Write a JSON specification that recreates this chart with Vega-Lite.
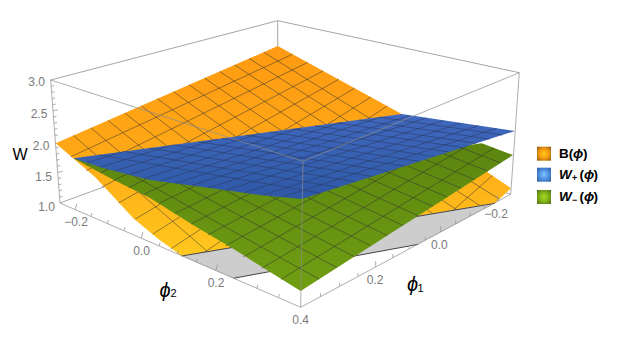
{"$schema":"https://vega.github.io/schema/vega-lite/v6.json","width":623,"height":345,"padding":0,"autosize":{"type":"none"},"background":"white","config":{"view":{"stroke":null}},
"datasets":{
"back":[{"g":"a","u":50.7,"v":80},{"g":"a","u":277.7,"v":20.7},{"g":"b","u":277.7,"v":20.7},{"g":"b","u":519.3,"v":72.7},{"g":"c","u":277.7,"v":20.7},{"g":"c","u":277.7,"v":123},{"g":"d","u":60,"v":203},{"g":"d","u":278,"v":123},{"g":"e","u":278,"v":123},{"g":"e","u":510.7,"v":194.3}],
"orangePoly":[{"g":"o","o":1,"u":55.7,"v":143.3},{"g":"o","o":2,"u":277.7,"v":46},{"g":"o","o":3,"u":401.7,"v":114},{"g":"o","o":4,"u":511,"v":188.3},{"g":"o","o":5,"u":495,"v":203.3},{"g":"o","o":6,"u":418,"v":216},{"g":"o","o":7,"u":232,"v":248},{"g":"o","o":8,"u":181.7,"v":256},{"g":"o","o":9,"u":157,"v":238},{"g":"o","o":10,"u":133,"v":218},{"g":"o","o":11,"u":110,"v":193},{"g":"o","o":12,"u":95,"v":177}],
"orangeMesh":[
{"g":"p1","u":70.7,"v":156.8},{"g":"p1","u":292.6,"v":54.2},{"g":"p2","u":86.2,"v":170.6},{"g":"p2","u":307.7,"v":62.4},{"g":"p3","u":102.1,"v":187},{"g":"p3","u":323.1,"v":70.9},{"g":"p4","u":118.5,"v":203},{"g":"p4","u":338.7,"v":79.4},{"g":"p5","u":135.3,"v":219},{"g":"p5","u":354.6,"v":88.2},{"g":"p6","u":152.7,"v":234},{"g":"p6","u":370.8,"v":97.1},{"g":"p7","u":170.6,"v":249},{"g":"p7","u":387.2,"v":106},{"g":"p8","u":189,"v":262.8},{"g":"p8","u":404,"v":115.6},{"g":"p9","u":208,"v":279.9},{"g":"p9","u":421,"v":127.1},{"g":"p10","u":227.7,"v":297.5},{"g":"p10","u":438.4,"v":139},{"g":"p11","u":248,"v":315.7},{"g":"p11","u":456,"v":150.9},{"g":"p12","u":268.9,"v":334.5},{"g":"p12","u":474,"v":163.2},{"g":"p13","u":290.6,"v":353.9},{"g":"p13","u":492.3,"v":175.6},
{"g":"q1","u":263.6,"v":52.2},{"g":"q1","u":499.4,"v":199.1},{"g":"q2","u":249.2,"v":58.5},{"g":"q2","u":487.5,"v":210.3},{"g":"q3","u":234.5,"v":64.9},{"g":"q3","u":475.3,"v":221.8},{"g":"q4","u":219.7,"v":71.4},{"g":"q4","u":462.7,"v":233.6},{"g":"q5","u":204.5,"v":78.1},{"g":"q5","u":449.7,"v":245.8},{"g":"q6","u":189.1,"v":84.8},{"g":"q6","u":436.4,"v":258.3},{"g":"q7","u":173.5,"v":91.7},{"g":"q7","u":422.6,"v":271.2},{"g":"q8","u":157.5,"v":98.7},{"g":"q8","u":408.4,"v":284.5},{"g":"q9","u":141.3,"v":105.8},{"g":"q9","u":393.8,"v":298.3},{"g":"q10","u":124.8,"v":113},{"g":"q10","u":378.7,"v":312.4},{"g":"q11","u":108,"v":120.4},{"g":"q11","u":363,"v":327.1},{"g":"q12","u":90.9,"v":127.9},{"g":"q12","u":346.9,"v":342.2},{"g":"q13","u":73.5,"v":135.5},{"g":"q13","u":330.2,"v":357.8}],
"mask":[{"g":"m","o":1,"u":181.7,"v":256},{"g":"m","o":2,"u":495,"v":203.3},{"g":"m","o":3,"u":499,"v":207},{"g":"m","o":4,"u":335,"v":380},{"g":"m","o":5,"u":285,"v":380},{"g":"m","o":6,"u":177,"v":258}],
"grey":[{"g":"y","o":1,"u":181.7,"v":256},{"g":"y","o":2,"u":495,"v":203.3},{"g":"y","o":3,"u":418.3,"v":244.3},{"g":"y","o":4,"u":233.3,"v":278.3}],
"greyEdge":[{"g":"a","u":181.7,"v":256},{"g":"a","u":495,"v":203.3},{"g":"b","u":233.3,"v":278.3},{"g":"b","u":418.3,"v":244.3}],
"greenPoly":[{"g":"n","o":1,"u":73.3,"v":158.3},{"g":"n","o":2,"u":300,"v":170},{"g":"n","o":3,"u":481.7,"v":143.3},{"g":"n","o":4,"u":513,"v":155},{"g":"n","o":5,"u":300.7,"v":291},{"g":"n","o":6,"u":270,"v":272},{"g":"n","o":7,"u":232,"v":248},{"g":"n","o":8,"u":193,"v":225},{"g":"n","o":9,"u":150,"v":198},{"g":"n","o":10,"u":110,"v":178}],
"greenMesh":[
{"g":"p1","u":86.6,"v":165},{"g":"p1","u":105,"v":156.6},{"g":"p2","u":100.2,"v":173},{"g":"p2","u":125,"v":161},{"g":"p3","u":114.3,"v":180},{"g":"p3","u":145,"v":165.8},{"g":"p4","u":128.8,"v":187.7},{"g":"p4","u":165,"v":169.1},{"g":"p5","u":143.7,"v":194.4},{"g":"p5","u":185,"v":175},{"g":"p6","u":159,"v":203.3},{"g":"p6","u":210,"v":178.8},{"g":"p7","u":174.8,"v":213.5},{"g":"p7","u":240,"v":181.2},{"g":"p8","u":191.1,"v":224},{"g":"p8","u":268,"v":184.2},{"g":"p9","u":207.9,"v":234.9},{"g":"p9","u":298,"v":186.8},{"g":"p10","u":225.3,"v":246},{"g":"p10","u":335,"v":185.2},{"g":"p11","u":243.2,"v":257},{"g":"p11","u":410,"v":161.1},{"g":"p12","u":261.7,"v":268.3},{"g":"p12","u":475.6,"v":140.9},{"g":"p13","u":280.9,"v":279.4},{"g":"p13","u":494.1,"v":147.9},
{"g":"q1","u":500.6,"v":162.9},{"g":"q1","u":446,"v":141.9},{"g":"q2","u":487.8,"v":171.1},{"g":"q2","u":428,"v":147.6},{"g":"q3","u":474.7,"v":179.5},{"g":"q3","u":410,"v":153.4},{"g":"q4","u":461.2,"v":188.2},{"g":"q4","u":390,"v":158.7},{"g":"q5","u":447.3,"v":197.1},{"g":"q5","u":370,"v":164.4},{"g":"q6","u":433,"v":206.3},{"g":"q6","u":350,"v":170.1},{"g":"q7","u":418.2,"v":215.7},{"g":"q7","u":330,"v":176.1},{"g":"q8","u":403,"v":225.5},{"g":"q8","u":310,"v":182.5},{"g":"q9","u":387.3,"v":235.5},{"g":"q9","u":290,"v":188.9},{"g":"q10","u":371.1,"v":245.9},{"g":"q10","u":255,"v":188.3},{"g":"q11","u":354.3,"v":256.6},{"g":"q11","u":210,"v":182.3},{"g":"q12","u":337.1,"v":267.7},{"g":"q12","u":165,"v":175.7},{"g":"q13","u":319.2,"v":279.2},{"g":"q13","u":120,"v":168.2}],
"bluePoly":[{"g":"l","o":1,"u":73.3,"v":158.3},{"g":"l","o":2,"u":401.7,"v":114},{"g":"l","o":3,"u":515,"v":131},{"g":"l","o":4,"u":380,"v":174},{"g":"l","o":5,"u":301.7,"v":199},{"g":"l","o":6,"u":260,"v":195},{"g":"l","o":7,"u":210,"v":188},{"g":"l","o":8,"u":150,"v":180},{"g":"l","o":9,"u":103,"v":168}],
"blueMesh":[
{"g":"p1","u":86.6,"v":162.6},{"g":"p1","u":124.4,"v":151.4},{"g":"p2","u":100.4,"v":167.1},{"g":"p2","u":173.2,"v":144.9},{"g":"p3","u":114.5,"v":170.9},{"g":"p3","u":217.1,"v":139},{"g":"p4","u":129,"v":174.6},{"g":"p4","u":259.9,"v":133.3},{"g":"p5","u":144,"v":178.5},{"g":"p5","u":301.2,"v":127.7},{"g":"p6","u":159.4,"v":181.3},{"g":"p6","u":341.6,"v":122.3},{"g":"p7","u":175.3,"v":183.4},{"g":"p7","u":380.9,"v":117.1},{"g":"p8","u":191.6,"v":185.5},{"g":"p8","u":409.5,"v":115.6},{"g":"p9","u":208.5,"v":187.8},{"g":"p9","u":426.3,"v":118.1},{"g":"p10","u":226,"v":190.2},{"g":"p10","u":443.4,"v":120.6},{"g":"p11","u":244,"v":192.8},{"g":"p11","u":460.8,"v":123.1},{"g":"p12","u":262.6,"v":195.3},{"g":"p12","u":478.5,"v":125.7},{"g":"p13","u":281.8,"v":197.1},{"g":"p13","u":496.6,"v":128.3},
{"g":"q1","u":502.5,"v":135},{"g":"q1","u":380,"v":117.2},{"g":"q2","u":489.7,"v":139.1},{"g":"q2","u":358.8,"v":120},{"g":"q3","u":476.5,"v":143.3},{"g":"q3","u":337,"v":122.9},{"g":"q4","u":463,"v":147.6},{"g":"q4","u":315,"v":125.9},{"g":"q5","u":449,"v":152},{"g":"q5","u":292.6,"v":128.9},{"g":"q6","u":434.6,"v":156.6},{"g":"q6","u":269.2,"v":132},{"g":"q7","u":419.8,"v":161.4},{"g":"q7","u":246.1,"v":135.1},{"g":"q8","u":404.5,"v":166.2},{"g":"q8","u":222,"v":138.3},{"g":"q9","u":388.7,"v":171.3},{"g":"q9","u":198,"v":141.6},{"g":"q10","u":372.4,"v":176.5},{"g":"q10","u":173.7,"v":144.8},{"g":"q11","u":355.6,"v":181.8},{"g":"q11","u":149,"v":148.1},{"g":"q12","u":338.2,"v":187.4},{"g":"q12","u":123.8,"v":151.5},{"g":"q13","u":320.3,"v":193.1},{"g":"q13","u":98.5,"v":154.9}],
"front":[{"g":"a","u":50.7,"v":80},{"g":"a","u":303,"v":161.3},{"g":"b","u":519.3,"v":72.7},{"g":"b","u":303,"v":161.3},{"g":"c","u":303,"v":161.3},{"g":"c","u":300.7,"v":307.3},{"g":"d","u":50.7,"v":80},{"g":"d","u":60,"v":203},{"g":"e","u":519.3,"v":72.7},{"g":"e","u":510.7,"v":194.3},{"g":"f","u":60,"v":203},{"g":"f","u":300.7,"v":307.3},{"g":"h","u":510.7,"v":194.3},{"g":"h","u":300.7,"v":307.3}],
"ticks":[
{"g":"l1","u":75.3,"v":209.6},{"g":"l1","u":76.8,"v":203.6},{"g":"l2","u":91.1,"v":216.5},{"g":"l2","u":92.1,"v":213},{"g":"l3","u":107.3,"v":223.5},{"g":"l3","u":108.3,"v":220},{"g":"l4","u":124.1,"v":230.8},{"g":"l4","u":125.1,"v":227.3},{"g":"l5","u":141.3,"v":238.2},{"g":"l5","u":142.8,"v":232.2},{"g":"l6","u":159.1,"v":245.9},{"g":"l6","u":160.1,"v":242.4},{"g":"l7","u":177.4,"v":253.9},{"g":"l7","u":178.4,"v":250.4},{"g":"l8","u":196.3,"v":262.1},{"g":"l8","u":197.3,"v":258.6},{"g":"l9","u":215.9,"v":270.5},{"g":"l9","u":217.4,"v":264.5},{"g":"l10","u":236,"v":279.3},{"g":"l10","u":237,"v":275.8},{"g":"l11","u":256.8,"v":288.3},{"g":"l11","u":257.8,"v":284.8},{"g":"l12","u":278.4,"v":297.6},{"g":"l12","u":279.4,"v":294.1},
{"g":"r1","u":497.6,"v":201.4},{"g":"r1","u":497.6,"v":195.4},{"g":"r2","u":484,"v":208.7},{"g":"r2","u":484,"v":205.2},{"g":"r3","u":470.1,"v":216.2},{"g":"r3","u":470.1,"v":212.7},{"g":"r4","u":455.6,"v":224},{"g":"r4","u":455.6,"v":220.5},{"g":"r5","u":440.7,"v":232},{"g":"r5","u":440.7,"v":226},{"g":"r6","u":425.3,"v":240.3},{"g":"r6","u":425.3,"v":236.8},{"g":"r7","u":409.3,"v":248.9},{"g":"r7","u":409.3,"v":245.4},{"g":"r8","u":392.8,"v":257.7},{"g":"r8","u":392.8,"v":254.2},{"g":"r9","u":375.7,"v":267},{"g":"r9","u":375.7,"v":261},{"g":"r10","u":358,"v":276.5},{"g":"r10","u":358,"v":273},{"g":"r11","u":339.6,"v":286.4},{"g":"r11","u":339.6,"v":282.9},{"g":"r12","u":320.5,"v":296.6},{"g":"r12","u":320.5,"v":293.1},
{"g":"z1","u":51.2,"v":86.2},{"g":"z1","u":54.2,"v":85.7},{"g":"z2","u":51.6,"v":92.3},{"g":"z2","u":54.6,"v":91.8},{"g":"z3","u":52.1,"v":98.5},{"g":"z3","u":55.1,"v":98},{"g":"z4","u":52.6,"v":104.6},{"g":"z4","u":55.6,"v":104.1},{"g":"z5","u":53,"v":110.8},{"g":"z5","u":58,"v":109.8},{"g":"z6","u":53.5,"v":116.9},{"g":"z6","u":56.5,"v":116.4},{"g":"z7","u":54,"v":123.1},{"g":"z7","u":57,"v":122.6},{"g":"z8","u":54.4,"v":129.2},{"g":"z8","u":57.4,"v":128.7},{"g":"z9","u":54.9,"v":135.4},{"g":"z9","u":57.9,"v":134.9},{"g":"z11","u":55.8,"v":147.7},{"g":"z11","u":58.8,"v":147.2},{"g":"z12","u":56.3,"v":153.8},{"g":"z12","u":59.3,"v":153.3},{"g":"z13","u":56.7,"v":160},{"g":"z13","u":59.7,"v":159.5},{"g":"z14","u":57.2,"v":166.1},{"g":"z14","u":60.2,"v":165.6},{"g":"z15","u":57.7,"v":172.3},{"g":"z15","u":62.7,"v":171.3},{"g":"z16","u":58.1,"v":178.4},{"g":"z16","u":61.1,"v":177.9},{"g":"z17","u":58.6,"v":184.6},{"g":"z17","u":61.6,"v":184.1},{"g":"z18","u":59.1,"v":190.7},{"g":"z18","u":62.1,"v":190.2},{"g":"z19","u":59.5,"v":196.9},{"g":"z19","u":62.5,"v":196.4}],
"tickLabels":[{"t":"3.0","u":36.7,"v":82},{"t":"2.5","u":39,"v":114},{"t":"2.0","u":41,"v":146},{"t":"1.5","u":43.7,"v":177},{"t":"1.0","u":46.7,"v":207},{"t":"−0.2","u":76,"v":222.3},{"t":"0.0","u":141.7,"v":251},{"t":"0.2","u":216,"v":283.3},{"t":"0.4","u":300.7,"v":320},{"t":"0.2","u":375,"v":280},{"t":"0.0","u":439.3,"v":245},{"t":"−0.2","u":496,"v":214.3}],
"swO":[{"u":537,"u2":551,"v":146.7,"v2":160.7}],
"swB":[{"u":537,"u2":551,"v":167.7,"v2":181.7}],
"swG":[{"u":537,"u2":551,"v":190,"v2":204}]
},
"encoding":{"x":{"field":"u","type":"quantitative","scale":{"domain":[0,623],"nice":false,"zero":false},"axis":null},"y":{"field":"v","type":"quantitative","scale":{"domain":[345,0],"nice":false,"zero":false},"axis":null}},
"layer":[
{"data":{"name":"back"},"mark":{"type":"line","stroke":"#a6a6a6","strokeWidth":1},"encoding":{"detail":{"field":"g"}}},
{"data":{"name":"orangePoly"},"mark":{"type":"line","strokeWidth":0,"fill":{"gradient":"linear","x1":0,"y1":0,"x2":0,"y2":1,"stops":[{"offset":0,"color":"#FF9A12"},{"offset":0.5,"color":"#FFA816"},{"offset":1,"color":"#FFC81E"}]}},"encoding":{"detail":{"field":"g"},"order":{"field":"o"}}},
{"data":{"name":"orangeMesh"},"mark":{"type":"line","stroke":"#333333","strokeOpacity":0.65,"strokeWidth":0.8},"encoding":{"detail":{"field":"g"}}},
{"data":{"name":"mask"},"mark":{"type":"line","strokeWidth":0,"fill":"white"},"encoding":{"detail":{"field":"g"},"order":{"field":"o"}}},
{"data":{"name":"grey"},"mark":{"type":"line","strokeWidth":0,"fill":"#CDCDCD"},"encoding":{"detail":{"field":"g"},"order":{"field":"o"}}},
{"data":{"name":"greyEdge"},"mark":{"type":"line","stroke":"#444444","strokeWidth":1},"encoding":{"detail":{"field":"g"}}},
{"data":{"name":"greenPoly"},"mark":{"type":"line","strokeWidth":0,"fill":{"gradient":"linear","x1":0,"y1":0,"x2":0,"y2":1,"stops":[{"offset":0,"color":"#5B850F"},{"offset":1,"color":"#709F13"}]}},"encoding":{"detail":{"field":"g"},"order":{"field":"o"}}},
{"data":{"name":"greenMesh"},"mark":{"type":"line","stroke":"#333333","strokeOpacity":0.65,"strokeWidth":0.8},"encoding":{"detail":{"field":"g"}}},
{"data":{"name":"bluePoly"},"mark":{"type":"line","strokeWidth":0,"fill":{"gradient":"linear","x1":0,"y1":0,"x2":0,"y2":1,"stops":[{"offset":0,"color":"#4069BF"},{"offset":1,"color":"#2E58A6"}]}},"encoding":{"detail":{"field":"g"},"order":{"field":"o"}}},
{"data":{"name":"blueMesh"},"mark":{"type":"line","stroke":"#2A3A60","strokeOpacity":0.7,"strokeWidth":0.8},"encoding":{"detail":{"field":"g"}}},
{"data":{"name":"front"},"mark":{"type":"line","stroke":"#8c8c8c","strokeOpacity":0.7,"strokeWidth":1},"encoding":{"detail":{"field":"g"}}},
{"data":{"name":"ticks"},"mark":{"type":"line","stroke":"#999999","strokeWidth":0.8},"encoding":{"detail":{"field":"g"}}},
{"data":{"name":"tickLabels"},"mark":{"type":"text","font":"Liberation Sans","fontSize":12,"fill":"#7a7a7a","align":"center","baseline":"middle"},"encoding":{"text":{"field":"t"}}},
{"data":{"values":[{"t":"W","u":20,"v":155}]},"mark":{"type":"text","font":"Liberation Sans","fontSize":16,"fill":"#000000","align":"center","baseline":"middle"},"encoding":{"text":{"field":"t"}}},
{"data":{"values":[{"t":"ϕ","u":165,"v":291},{"t":"ϕ","u":412.5,"v":284.5}]},"mark":{"type":"text","font":"Liberation Sans","fontSize":20,"fontStyle":"italic","fill":"#000000","align":"center","baseline":"middle"},"encoding":{"text":{"field":"t"}}},
{"data":{"values":[{"t":"2","u":173.5,"v":294},{"t":"1","u":420.5,"v":288.5}]},"mark":{"type":"text","font":"Liberation Sans","fontSize":11,"fill":"#000000","align":"center","baseline":"middle"},"encoding":{"text":{"field":"t"}}},
{"data":{"values":[{"t":"B(","u":559,"v":153.7},{"t":")","u":583,"v":153.7},{"t":"(","u":579.5,"v":174.7},{"t":")","u":593.5,"v":174.7},{"t":"(","u":579.5,"v":197},{"t":")","u":593.5,"v":197}]},"mark":{"type":"text","font":"Liberation Sans","fontSize":13.5,"fontWeight":"bold","fill":"#000000","align":"left","baseline":"middle"},"encoding":{"text":{"field":"t"}}},
{"data":{"values":[{"t":"ϕ","u":573,"v":153.7},{"t":"W","u":559,"v":174.7},{"t":"ϕ","u":584,"v":174.7},{"t":"W","u":559,"v":197},{"t":"ϕ","u":584,"v":197}]},"mark":{"type":"text","font":"Liberation Sans","fontSize":13.5,"fontWeight":"bold","fontStyle":"italic","fill":"#000000","align":"left","baseline":"middle"},"encoding":{"text":{"field":"t"}}},
{"data":{"values":[{"t":"+","u":572,"v":178},{"t":"−","u":572,"v":200}]},"mark":{"type":"text","font":"Liberation Sans","fontSize":9,"fontWeight":"bold","fill":"#000000","align":"left","baseline":"middle"},"encoding":{"text":{"field":"t"}}},
{"data":{"name":"swO"},"mark":{"type":"rect","fill":{"gradient":"radial","x1":0.5,"y1":0.5,"r1":0,"x2":0.5,"y2":0.5,"r2":0.7,"stops":[{"offset":0,"color":"#FFC61A"},{"offset":0.5,"color":"#F59A10"},{"offset":1,"color":"#8A5A10"}]}},"encoding":{"x2":{"field":"u2"},"y2":{"field":"v2"}}},
{"data":{"name":"swB"},"mark":{"type":"rect","fill":{"gradient":"radial","x1":0.5,"y1":0.5,"r1":0,"x2":0.5,"y2":0.5,"r2":0.7,"stops":[{"offset":0,"color":"#7CC8FF"},{"offset":0.5,"color":"#4E8FE0"},{"offset":1,"color":"#2F5A96"}]}},"encoding":{"x2":{"field":"u2"},"y2":{"field":"v2"}}},
{"data":{"name":"swG"},"mark":{"type":"rect","fill":{"gradient":"radial","x1":0.5,"y1":0.5,"r1":0,"x2":0.5,"y2":0.5,"r2":0.7,"stops":[{"offset":0,"color":"#A4DC20"},{"offset":0.5,"color":"#7FB018"},{"offset":1,"color":"#4A6A14"}]}},"encoding":{"x2":{"field":"u2"},"y2":{"field":"v2"}}}
]}
